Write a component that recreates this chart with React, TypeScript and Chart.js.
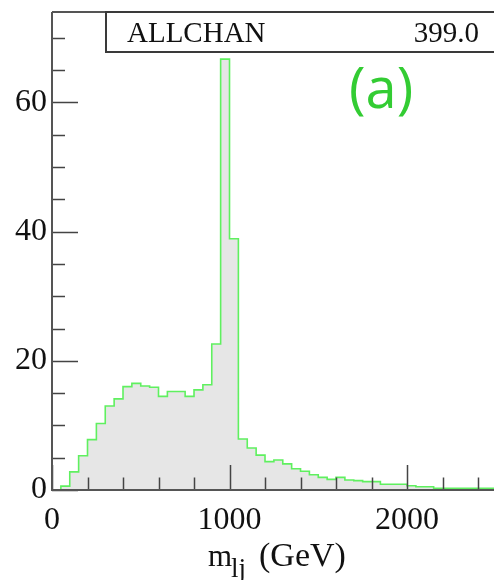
import React, { useEffect, useRef } from 'react';
import { Chart, registerables } from 'chart.js';

Chart.register(...registerables);

// Histogram of m_lj (GeV): 50 GeV bins starting at 0
const binStart = 0;
const binWidth = 50;
const counts = [
  0, 0.6, 2.8, 5.3, 7.8, 10.3, 13.0, 14.1, 16.0, 16.5,
  16.1, 15.9, 14.5, 15.25, 15.25, 14.5, 15.5, 16.3, 22.6, 66.7,
  38.9, 7.9, 6.5, 5.4, 4.4, 4.65, 4.05, 3.3, 2.9, 2.35,
  1.95, 1.65, 1.95, 1.55, 1.45, 1.3, 1.3, 0.9, 0.9, 0.9,
  0.65, 0.5, 0.5, 0.25, 0.25, 0.25, 0.25, 0.25, 0.25, 0.25,
];

const xMin = 0;
const xMax = 2490;
const yMin = 0;
const yMax = 74;
const xTickValues = [0, 1000, 2000];
const yTickValues = [0, 20, 40, 60];
const xMajorStep = 1000;
const xMinorStep = 200;
const yMajorStep = 20;
const yMinorStep = 5;

const titleText = 'ALLCHAN';
const entriesText = '399.0';
const panelLabel = '(a)';
const axisVar = 'm';
const axisSub = 'lj';
const axisUnit = '(GeV)';

const SERIF = '"Liberation Serif", "DejaVu Serif", serif';

const framePlugin = {
  id: 'frameTicks',
  afterDatasetsDraw(chart: any) {
    const { ctx, chartArea, scales } = chart;
    const { left, right, top, bottom } = chartArea;
    const x = scales.x;
    const y = scales.y;
    ctx.save();
    ctx.strokeStyle = '#444';
    ctx.lineWidth = 1.5;
    ctx.beginPath();
    for (let v = xMin; v <= xMax; v += xMinorStep) {
      const px = Math.round(x.getPixelForValue(v)) + 0.5;
      const len = v % xMajorStep === 0 ? 25 : 12.5;
      ctx.moveTo(px, bottom);
      ctx.lineTo(px, bottom - len);
    }
    for (let v = yMin; v <= yMax; v += yMinorStep) {
      const py = Math.round(y.getPixelForValue(v)) + 0.5;
      const len = v % yMajorStep === 0 ? 26 : 13;
      ctx.moveTo(left, py);
      ctx.lineTo(left + len, py);
    }
    ctx.stroke();

    ctx.strokeStyle = '#555';
    ctx.lineWidth = 2;
    ctx.beginPath();
    ctx.moveTo(left, top);
    ctx.lineTo(left, bottom);
    ctx.lineTo(right, bottom);
    ctx.moveTo(left, top);
    ctx.lineTo(right, top);
    ctx.stroke();
    ctx.restore();
  },
  afterDraw(chart: any) {
    const { ctx } = chart;
    ctx.save();
    // stat box
    ctx.fillStyle = '#fff';
    ctx.fillRect(106, 12, 500, 40);
    ctx.strokeStyle = '#3a3a3a';
    ctx.lineWidth = 2;
    ctx.strokeRect(106, 12, 500, 40);
    ctx.fillStyle = '#111';
    ctx.font = `29px ${SERIF}`;
    ctx.textBaseline = 'alphabetic';
    ctx.textAlign = 'left';
    ctx.fillText(titleText, 127, 42);
    ctx.textAlign = 'right';
    ctx.fillText(entriesText, 479, 42);

    // panel label
    ctx.fillStyle = '#33cc33';
    ctx.textAlign = 'left';
    ctx.font = `56px "Open Sans", "DejaVu Sans", sans-serif`;
    ctx.fillText(panelLabel, 349, 108);

    // axis title m_lj (GeV)
    ctx.fillStyle = '#111';
    ctx.font = `31px ${SERIF}`;
    ctx.fillText(axisVar, 208, 566);
    ctx.font = `27px ${SERIF}`;
    ctx.fillText(axisSub, 231, 577);
    ctx.font = `34px ${SERIF}`;
    ctx.fillText(axisUnit, 259, 566);
    ctx.restore();
  },
};

export default function App() {
  const canvasRef = useRef<HTMLCanvasElement | null>(null);

  useEffect(() => {
    const canvas = canvasRef.current;
    if (!canvas) return;
    const points = counts.map((c, i) => ({ x: binStart + i * binWidth, y: c }));
    points.push({ x: binStart + counts.length * binWidth, y: counts[counts.length - 1] });

    const chart = new Chart(canvas, {
      type: 'line',
      data: {
        datasets: [
          {
            data: points,
            stepped: 'before',
            borderColor: 'rgb(95,240,95)',
            borderWidth: 1.6,
            backgroundColor: '#e6e6e6',
            fill: 'origin',
            pointRadius: 0,
            tension: 0,
          },
        ],
      },
      options: {
        responsive: false,
        animation: false,
        events: [],
        layout: { padding: { top: 12, right: 0, left: 0, bottom: 0 } },
        plugins: { legend: { display: false }, tooltip: { enabled: false } },
        scales: {
          x: {
            type: 'linear',
            min: xMin,
            max: xMax,
            grid: { display: false, drawTicks: false },
            border: { display: false },
            afterBuildTicks: (scale: any) => {
              scale.ticks = xTickValues.map((v) => ({ value: v }));
            },
            ticks: {
              maxRotation: 0,
              autoSkip: false,
              padding: 11,
              color: '#111',
              font: { family: SERIF, size: 32 },
              callback: (v: any) => String(v),
            },
            afterFit: (scale: any) => {
              scale.height = 90;
              scale.paddingLeft = 0;
              scale.paddingRight = 0;
            },
          },
          y: {
            type: 'linear',
            min: yMin,
            max: yMax,
            grid: { display: false, drawTicks: false },
            border: { display: false },
            afterBuildTicks: (scale: any) => {
              scale.ticks = yTickValues.map((v) => ({ value: v }));
            },
            ticks: {
              autoSkip: false,
              padding: 5,
              color: '#111',
              font: { family: SERIF, size: 32 },
              callback: (v: any) => String(v),
            },
            afterFit: (scale: any) => {
              scale.width = 52;
              scale.paddingTop = 0;
              scale.paddingBottom = 0;
            },
          },
        },
      },
      plugins: [framePlugin],
    });
    return () => chart.destroy();
  }, []);

  return (
    <div style={{ position: 'fixed', left: 0, top: 0, width: 494, height: 580, background: '#fff' }}>
      <canvas ref={canvasRef} width={494} height={580} style={{ display: 'block' }} />
    </div>
  );
}
